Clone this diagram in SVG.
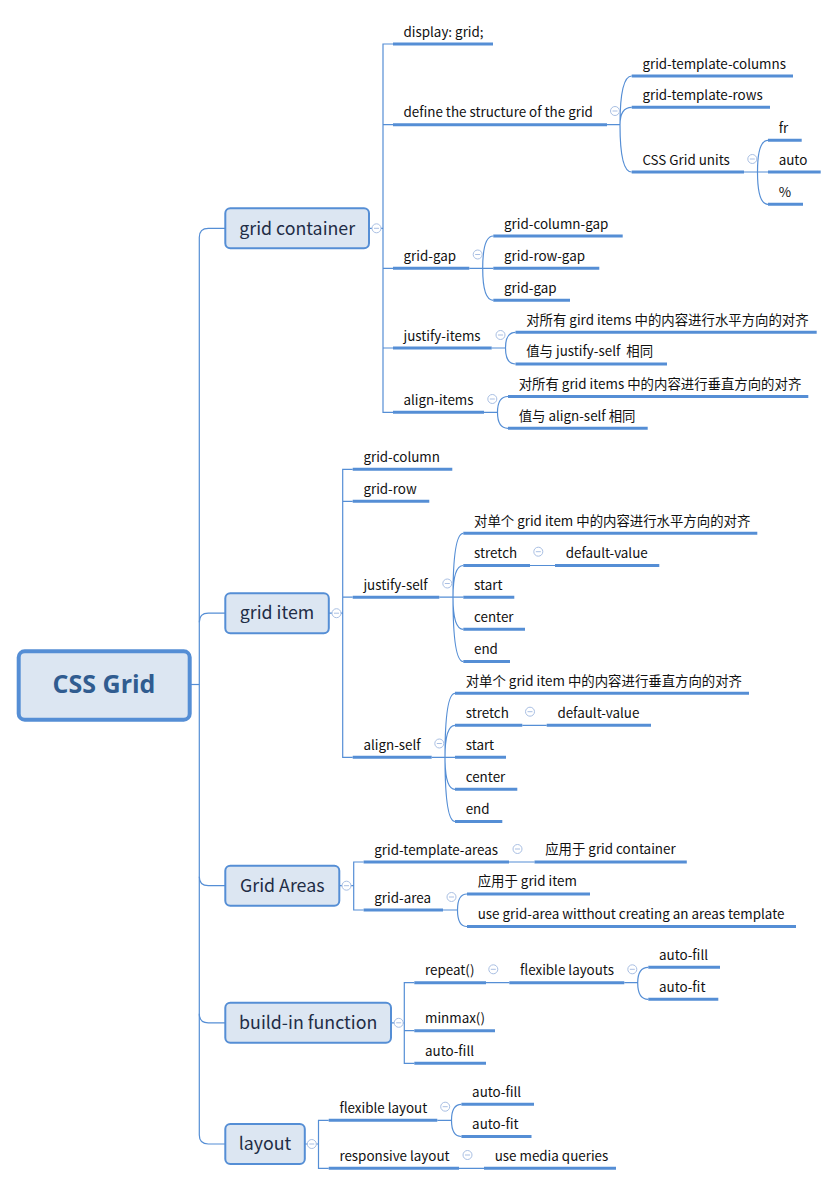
<svg xmlns="http://www.w3.org/2000/svg" xmlns:xlink="http://www.w3.org/1999/xlink" width="838" height="1185" viewBox="0 0 838 1185">
<style>
.cn{fill:none;stroke:#558ed5;stroke-width:1.2}
.ul{fill:none;stroke:#558ed5;stroke-width:3}
.t{font-family:"Noto Sans CJK SC","Noto Sans",sans-serif;font-size:13.4px;fill:#111}
.n1 rect{fill:#dce6f2;stroke:#558ed5;stroke-width:2}
.n1 text{font-family:"Noto Sans CJK SC","Noto Sans",sans-serif;font-size:17.8px;fill:#1f2d46;text-anchor:middle}
.tg circle{fill:#fff;stroke:#a9bfe3;stroke-width:1}
.tg line{stroke:#a9bfe3;stroke-width:1}
</style>
<defs>
<g id="tog" class="tg"><circle cx="0" cy="0" r="4.5"/><line x1="-2.5" y1="0" x2="2.5" y2="0"/></g>
</defs>
<rect width="838" height="1185" fill="#fff"/>
<g id="connectors">
<path class="cn" d="M190.7,684.5 H199.3"/>
<path class="cn" d="M225.3,228.3 H208.3 Q199.3,228.3 199.3,237.3 V1135 Q199.3,1144 208.3,1144 H225.3"/>
<path class="cn" d="M225.3,613.2 H208.3 Q199.3,613.2 199.3,622.2"/>
<path class="cn" d="M199.3,876.7 Q199.3,885.7 208.3,885.7 H225.3"/>
<path class="cn" d="M199.3,1013.8 Q199.3,1022.8 208.3,1022.8 H225.3"/>
<path class="cn" d="M369,228.3 H383 M393,44 H383 V412.3 H393 M383,124.7 H393 M383,268.3 H393 M383,348 H393"/>
<path class="cn" d="M607,124.7 H620 M620,124.7 Q620,76 631.7,76 M620,124.7 Q620,107.3 631.7,107.3 M620,124.7 Q620,172 631.7,172"/>
<path class="cn" d="M744,172 H768 M757.5,172 Q757.5,140.3 768,140.3 M757.5,172 Q757.5,204.3 768,204.3"/>
<path class="cn" d="M469.3,268.3 H493.3 M482.7,268.3 Q482.7,236 493.3,236 M482.7,268.3 Q482.7,300.3 493.3,300.3"/>
<path class="cn" d="M491.7,348 H505.5 Q505.5,332.3 515.5,332.3 M505.5,348 Q505.5,364 515.5,364"/>
<path class="cn" d="M484,412.3 H497.5 Q497.5,396.5 508,396.5 M497.5,412.3 Q497.5,428.3 508,428.3"/>
<path class="cn" d="M328.8,613.2 H342.7 M352.7,469.3 H342.7 V757.3 H352.7 M342.7,501.3 H352.7 M342.7,597.2 H352.7"/>
<path class="cn" d="M439.3,597.2 H463.3 M453,597.2 Q453,533.3 463.3,533.3 M453,597.2 Q453,565.5 463.3,565.5 M453,597.2 Q453,629.3 463.3,629.3 M453,597.2 Q453,661.5 463.3,661.5 M530,565.5 H555"/>
<path class="cn" d="M431.7,757.3 H455 M445,757.3 Q445,693.3 455,693.3 M445,757.3 Q445,725.3 455,725.3 M445,757.3 Q445,789.3 455,789.3 M445,757.3 Q445,821.5 455,821.5 M522.3,725.3 H546.7"/>
<path class="cn" d="M339.3,885.7 H353.7 M363.6,862 H353.7 V910 H363.6 M509,862 H534.5 M443,910 H457.5 Q457.5,894 467,894 M457.5,910 Q457.5,926.5 467,926.5"/>
<path class="cn" d="M391,1022.8 H404.3 M414.3,982.7 H404.3 V1063.3 H414.3 M404.3,1030.7 H414.3 M486,982.7 H509.3 M624.3,982.7 H637.7 Q637.7,967.3 648.3,967.3 M637.7,982.7 Q637.7,999.3 648.3,999.3"/>
<path class="cn" d="M304.8,1144 H318.5 M328.7,1120.3 H318.5 V1168.3 H328.7 M437.3,1120.3 H451.5 Q451.5,1104.3 461.4,1104.3 M451.5,1120.3 Q451.5,1136.5 461.4,1136.5 M459,1168.3 H484"/>
</g>

<g id="root">
<rect x="18.7" y="651.3" width="171" height="68.4" rx="6" fill="#dce6f2" stroke="#558ed5" stroke-width="4"/>
<text x="104" y="693.3" text-anchor="middle" font-family="'Open Sans','Noto Sans',sans-serif" font-weight="bold" font-size="25" fill="#305c90">CSS Grid</text>
</g>

<g id="n-grid-container" class="n1"><rect x="225.3" y="208.3" width="143.7" height="40" rx="5"/><text x="297.2" y="234.5">grid container</text><use xlink:href="#tog" x="376.5" y="228.3"/></g>
<g id="n-grid-item" class="n1"><rect x="225.3" y="593.2" width="103.5" height="40" rx="5"/><text x="277" y="619.4">grid item</text><use xlink:href="#tog" x="336.5" y="613.2"/></g>
<g id="n-grid-areas" class="n1"><rect x="225.3" y="865.7" width="114" height="40" rx="5"/><text x="282.3" y="891.9">Grid Areas</text><use xlink:href="#tog" x="346.5" y="885.7"/></g>
<g id="n-build-in" class="n1"><rect x="225.3" y="1002.8" width="165.7" height="40" rx="5"/><text x="308.2" y="1029">build-in function</text><use xlink:href="#tog" x="398.7" y="1022.8"/></g>
<g id="n-layout" class="n1"><rect x="225.3" y="1124" width="79.5" height="40" rx="5"/><text x="265" y="1150.2">layout</text><use xlink:href="#tog" x="311.8" y="1144"/></g>

<g id="l-display"><path class="ul" d="M393,44 H493"/><text class="t" x="403.5" y="36.5">display: grid;</text></g>
<g id="l-define"><path class="ul" d="M393,124.7 H607"/><text class="t" x="403.5" y="117.2">define the structure of the grid</text><use xlink:href="#tog" x="615" y="111"/></g>
<g id="l-gtc"><path class="ul" d="M631.7,76 H793"/><text class="t" x="642.4" y="68.5">grid-template-columns</text></g>
<g id="l-gtr"><path class="ul" d="M631.7,107.3 H770"/><text class="t" x="642.4" y="99.8">grid-template-rows</text></g>
<g id="l-units"><path class="ul" d="M631.7,172 H744"/><text class="t" x="642.4" y="164.5">CSS Grid units</text><use xlink:href="#tog" x="752.3" y="159"/></g>
<g id="l-fr"><path class="ul" d="M768,140.3 H801.7"/><text class="t" x="778.7" y="132.8">fr</text></g>
<g id="l-auto"><path class="ul" d="M768,172 H820.7"/><text class="t" x="778.7" y="164.5">auto</text></g>
<g id="l-pct"><path class="ul" d="M768,204.3 H803"/><text class="t" x="778.7" y="196.8">%</text></g>
<g id="l-gridgap"><path class="ul" d="M393,268.3 H469.3"/><text class="t" x="403.5" y="260.8">grid-gap</text><use xlink:href="#tog" x="477.7" y="254.5"/></g>
<g id="l-gcg"><path class="ul" d="M493.3,236 H622.7"/><text class="t" x="504" y="228.5">grid-column-gap</text></g>
<g id="l-grg"><path class="ul" d="M493.3,268.3 H599.3"/><text class="t" x="504" y="260.8">grid-row-gap</text></g>
<g id="l-gg"><path class="ul" d="M493.3,300.3 H570"/><text class="t" x="504" y="292.8">grid-gap</text></g>
<g id="l-ji"><path class="ul" d="M393,348 H491.7"/><text class="t" x="403.5" y="340.5">justify-items</text><use xlink:href="#tog" x="500.5" y="335"/></g>
<g id="l-ji1"><path class="ul" d="M515.5,332.3 H816.7"/><text class="t" x="526.2" y="324.5">对所有 gird items 中的内容进行水平方向的对齐</text></g>
<g id="l-ji2"><path class="ul" d="M515.5,364 H667"/><text class="t" x="526.2" y="356.3" xml:space="preserve">值与 justify-self  相同</text></g>
<g id="l-ai"><path class="ul" d="M393,412.3 H484"/><text class="t" x="403.5" y="404.8">align-items</text><use xlink:href="#tog" x="492.3" y="399"/></g>
<g id="l-ai1"><path class="ul" d="M508,396.5 H808.3"/><text class="t" x="518.7" y="388.8">对所有 grid items 中的内容进行垂直方向的对齐</text></g>
<g id="l-ai2"><path class="ul" d="M508,428.3 H647.7"/><text class="t" x="518.7" y="420.6">值与 align-self 相同</text></g>

<g id="l-gcol"><path class="ul" d="M352.7,469.3 H452.3"/><text class="t" x="363.4" y="461.8">grid-column</text></g>
<g id="l-grow"><path class="ul" d="M352.7,501.3 H429.3"/><text class="t" x="363.4" y="493.8">grid-row</text></g>
<g id="l-js"><path class="ul" d="M352.7,597.2 H439.3"/><text class="t" x="363.4" y="589.7">justify-self</text><use xlink:href="#tog" x="447.3" y="583.5"/></g>
<g id="l-js1"><path class="ul" d="M463.3,533.3 H757.3"/><text class="t" x="474" y="525.6">对单个 grid item 中的内容进行水平方向的对齐</text></g>
<g id="l-js-stretch"><path class="ul" d="M463.3,565.5 H530"/><text class="t" x="474" y="558">stretch</text><use xlink:href="#tog" x="538.3" y="551.7"/></g>
<g id="l-js-default"><path class="ul" d="M555,565.5 H659.3"/><text class="t" x="565.7" y="558">default-value</text></g>
<g id="l-js-start"><path class="ul" d="M463.3,597.3 H514.3"/><text class="t" x="474" y="589.8">start</text></g>
<g id="l-js-center"><path class="ul" d="M463.3,629.3 H525"/><text class="t" x="474" y="621.8">center</text></g>
<g id="l-js-end"><path class="ul" d="M463.3,661.5 H510"/><text class="t" x="474" y="654">end</text></g>
<g id="l-as"><path class="ul" d="M352.7,757.3 H431.7"/><text class="t" x="363.4" y="749.8">align-self</text><use xlink:href="#tog" x="439.3" y="743.5"/></g>
<g id="l-as1"><path class="ul" d="M455,693.3 H749"/><text class="t" x="465.7" y="685.6">对单个 grid item 中的内容进行垂直方向的对齐</text></g>
<g id="l-as-stretch"><path class="ul" d="M455,725.3 H522.3"/><text class="t" x="465.7" y="717.8">stretch</text><use xlink:href="#tog" x="530" y="711.7"/></g>
<g id="l-as-default"><path class="ul" d="M546.7,725.3 H651"/><text class="t" x="557.4" y="717.8">default-value</text></g>
<g id="l-as-start"><path class="ul" d="M455,757.3 H506"/><text class="t" x="465.7" y="749.8">start</text></g>
<g id="l-as-center"><path class="ul" d="M455,789.3 H517.3"/><text class="t" x="465.7" y="781.8">center</text></g>
<g id="l-as-end"><path class="ul" d="M455,821.5 H502.3"/><text class="t" x="465.7" y="814">end</text></g>

<g id="l-gta"><path class="ul" d="M363.6,862 H509"/><text class="t" x="374.3" y="854.5">grid-template-areas</text><use xlink:href="#tog" x="517.5" y="849"/></g>
<g id="l-gta1"><path class="ul" d="M534.5,862 H686.8"/><text class="t" x="545.2" y="854.3">应用于 grid container</text></g>
<g id="l-ga"><path class="ul" d="M363.6,910 H443"/><text class="t" x="374.3" y="902.5">grid-area</text><use xlink:href="#tog" x="451.5" y="897"/></g>
<g id="l-ga1"><path class="ul" d="M467,894 H590"/><text class="t" x="477.7" y="886.3">应用于 grid item</text></g>
<g id="l-ga2"><path class="ul" d="M467,926.5 H796"/><text class="t" x="477.7" y="919">use grid-area witthout creating an areas template</text></g>

<g id="l-repeat"><path class="ul" d="M414.3,982.7 H486"/><text class="t" x="425" y="975.2">repeat()</text><use xlink:href="#tog" x="493.3" y="969.3"/></g>
<g id="l-flexs"><path class="ul" d="M509.3,982.7 H624.3"/><text class="t" x="520" y="975.2">flexible layouts</text><use xlink:href="#tog" x="632.3" y="969.3"/></g>
<g id="l-rf-fill"><path class="ul" d="M648.3,967.3 H720"/><text class="t" x="659" y="959.8">auto-fill</text></g>
<g id="l-rf-fit"><path class="ul" d="M648.3,999.3 H718.3"/><text class="t" x="659" y="991.8">auto-fit</text></g>
<g id="l-minmax"><path class="ul" d="M414.3,1030.7 H495"/><text class="t" x="425" y="1023.2">minmax()</text></g>
<g id="l-autofill"><path class="ul" d="M414.3,1063.3 H486"/><text class="t" x="425" y="1055.8">auto-fill</text></g>

<g id="l-flex"><path class="ul" d="M328.7,1120.3 H437.3"/><text class="t" x="339.4" y="1112.8">flexible layout</text><use xlink:href="#tog" x="445.2" y="1106.7"/></g>
<g id="l-lf-fill"><path class="ul" d="M461.4,1104.3 H534"/><text class="t" x="472.1" y="1096.8">auto-fill</text></g>
<g id="l-lf-fit"><path class="ul" d="M461.4,1136.5 H531.5"/><text class="t" x="472.1" y="1129">auto-fit</text></g>
<g id="l-resp"><path class="ul" d="M328.7,1168.3 H459"/><text class="t" x="339.4" y="1160.8">responsive layout</text><use xlink:href="#tog" x="467.5" y="1155"/></g>
<g id="l-media"><path class="ul" d="M484,1168.3 H616"/><text class="t" x="494.7" y="1160.8">use media queries</text></g>
</svg>
